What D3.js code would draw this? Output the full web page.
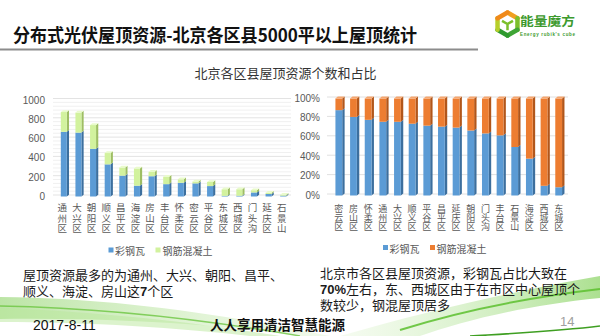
<!DOCTYPE html>
<html><head><meta charset="utf-8">
<script src="https://cdn.jsdelivr.net/npm/d3@7"></script>
<style>
html,body{margin:0;padding:0;background:#fff;}
svg{display:block;}
.vt{writing-mode:vertical-rl;text-orientation:upright;}
</style></head>
<body>
<svg id="c" width="600" height="336"></svg>
<script>
// ---------- data ----------
const leftCats = ["通州区","大兴区","朝阳区","顺义区","昌平区","海淀区","房山区","丰台区","怀柔区","密云区","平谷区","东城区","西城区","门头沟","延庆区","石景山"];
const leftSteel = [670,662,494,333,216,112,210,128,142,136,108,7,8,42,26,9];
const leftConcrete = [205,208,246,117,84,178,45,77,36,19,42,68,67,23,12,9];
const leftTicks = [0,200,400,600,800,1000];

const rightCats = ["密云区","房山区","怀柔区","通州区","大兴区","顺义区","平谷区","昌平区","延庆区","朝阳区","门头沟","丰台区","石景山","海淀区","西城区","东城区"];
const rightSteelPct = [88,81,78,76,76,74,72,71,70,67,64,62,50,38,10,8.5];
const rightConcretePct = [12,19,22,24,24,26,28,29,30,33,36,38,50,62,90,91.5];
const rightTicks = [0,20,40,60,80,100];

const seriesNames = ["彩钢瓦","钢筋混凝土"];
const pageTitle = "分布式光伏屋顶资源-北京各区县5000平以上屋顶统计";
const chartTitle = "北京各区县屋顶资源个数和占比";
const leftNote = ["屋顶资源最多的为通州、大兴、朝阳、昌平、","顺义、海淀、房山这7个区"];
const rightNote = ["北京市各区县屋顶资源，彩钢瓦占比大致在","70%左右，东、西城区由于在市区中心屋顶个","数较少，钢混屋顶居多"];

// ---------- setup ----------
const svg = d3.select("#c");
const CJK = "'Noto Sans CJK SC','Noto Sans',sans-serif";
const NOTE = "'Liberation Sans','Noto Sans CJK SC',sans-serif";
const blue = {front:"#5B9BD5", side:"#3C6F9E", top:"#9CC3E8"};
const green = {front:"#D2F29E", side:"#9EBE64", top:"#E9FBCB"};
const orange = {front:"#ED7D31", side:"#B2561A", top:"#F5A66F"};

// background swoosh decoration
const defs = svg.append("defs");
const g1 = defs.append("linearGradient").attr("id","sw1").attr("x1","0").attr("x2","1");
g1.append("stop").attr("offset","0").attr("stop-color","#8fd36a").attr("stop-opacity",0.6);
g1.append("stop").attr("offset","1").attr("stop-color","#c9ecb0").attr("stop-opacity",0.25);
const g2 = defs.append("linearGradient").attr("id","sw2").attr("x1","0").attr("x2","1");
g2.append("stop").attr("offset","0").attr("stop-color","#d8f2c6").attr("stop-opacity",0.25);
g2.append("stop").attr("offset","1").attr("stop-color","#7fcf55").attr("stop-opacity",0.65);
const deco = svg.append("g");
deco.append("path").attr("d","M0,297 C120,298 230,316 330,336 L300,336 C200,322 100,318 0,319 Z").attr("fill","url(#sw1)");
deco.append("path").attr("d","M0,308 C110,312 220,326 280,336 L250,336 C180,328 90,322 0,322 Z").attr("fill","#b9e79c").attr("opacity",0.5);
deco.append("path").attr("d","M340,336 C430,310 520,290 600,276 L600,298 C520,306 460,322 420,336 Z").attr("fill","url(#sw2)");
deco.append("path").attr("d","M0,306 C120,308 230,324 300,336").attr("fill","none").attr("stroke","#6cc540").attr("stroke-width",1.4).attr("opacity",0.8);
deco.append("path").attr("d","M400,330 C470,308 540,296 600,289").attr("fill","none").attr("stroke","#5cbf2e").attr("stroke-width",2).attr("opacity",0.85);
deco.append("path").attr("d","M470,336 C520,333 560,331 600,326").attr("fill","none").attr("stroke","#3f9f22").attr("stroke-width",1.6);

// page title
svg.append("text").attr("x",13).attr("y",42).attr("font-family",CJK).attr("font-weight","bold")
  .attr("font-size",18).attr("fill","#111").attr("textLength",404).attr("lengthAdjust","spacingAndGlyphs").text(pageTitle);
svg.append("line").attr("x1",0).attr("x2",478).attr("y1",49.5).attr("y2",49.5).attr("stroke","#8c8c8c").attr("stroke-width",2);

// logo
const logo = svg.append("g").attr("transform","translate(507.5,24)");
const R = 11.5;
const hex = d3.range(6).map(i => { const a = Math.PI/180*(60*i-90); return [R*Math.cos(a), R*Math.sin(a)]; });
const segColors = ["#f0a020","#7cbf2c","#3fa535","#2f9a2f","#b7cf2a","#f08a1a"];
for (let i=0;i<6;i++){
  const p=hex[i], q=hex[(i+1)%6];
  logo.append("line").attr("x1",p[0]).attr("y1",p[1]).attr("x2",q[0]).attr("y2",q[1])
    .attr("stroke",segColors[i]).attr("stroke-width",4.5).attr("stroke-linecap","round");
}
logo.append("path").attr("d",`M0,0 L${hex[1][0]*0.55},${hex[1][1]*0.55} M0,0 L${hex[5][0]*0.55},${hex[5][1]*0.55} M0,0 L0,${R*0.55}`)
  .attr("stroke","#7cbf2c").attr("stroke-width",2.5).attr("fill","none");
svg.append("text").attr("x",520).attr("y",26).attr("font-family",CJK).attr("font-weight","bold")
  .attr("font-size",12.5).attr("fill","#3d9a2e").attr("textLength",55).attr("lengthAdjust","spacingAndGlyphs").text("能量魔方");
svg.append("text").attr("x",520).attr("y",35.5).attr("font-family","'Liberation Sans',sans-serif").attr("font-weight","bold")
  .attr("font-size",4.5).attr("fill","#3d9a2e").attr("textLength",55).text("Energy rubik's cube");

// chart title
svg.append("text").attr("x",285.5).attr("y",77.5).attr("text-anchor","middle").attr("font-family",CJK)
  .attr("font-size",13).attr("fill","#333").text(chartTitle);

// 3D bar helper
function bar3d(g, x, w, yb, yt, col, withTop, dx, dy){
  g.append("polygon").attr("points",[[x+w,yt],[x+w+dx,yt-dy],[x+w+dx,yb-dy],[x+w,yb]].join(" ")).attr("fill",col.side);
  g.append("rect").attr("x",x).attr("y",yt).attr("width",w).attr("height",Math.max(0,yb-yt)).attr("fill",col.front);
  if (withTop){
    g.append("polygon").attr("points",[[x,yt],[x+dx,yt-dy],[x+w+dx,yt-dy],[x+w,yt]].join(" ")).attr("fill",col.top);
  }
}
function vlabel(g, cx, y0, txt, size, spacing){
  g.append("text").attr("class","vt").attr("x",cx).attr("y",y0)
    .attr("font-family",CJK).attr("font-size",size).attr("letter-spacing",spacing)
    .attr("fill","#595959").text(txt);
}

// ---------- left chart ----------
const L = svg.append("g");
const xL = d3.scaleBand().domain(leftCats).range([56,290]);
const yL = d3.scaleLinear().domain([0,1000]).range([196.5,100]);
d3.range(0,1001,40).forEach(v=>{
  L.append("line").attr("x1",53).attr("x2",291).attr("y1",yL(v)-1.5).attr("y2",yL(v)-1.5)
   .attr("stroke", v%200===0 ? "#e3e3e3" : "#f0f0f0").attr("stroke-width",1);
});
leftTicks.forEach(v=>{
  L.append("text").attr("x",45).attr("y",yL(v)+3.5).attr("text-anchor","end")
   .attr("font-family","'Liberation Sans',sans-serif").attr("font-size",10).attr("fill","#595959").text(v);
});
leftCats.forEach((c,i)=>{
  const cx = xL(c)+xL.bandwidth()/2;
  const w = 6, x = cx - w/2 + 0.5;
  const yS = yL(leftSteel[i]);
  const yT = yL(leftSteel[i]+leftConcrete[i]);
  bar3d(L, x, w, yL(0), yS, blue, false, 2.2, 1.8);
  bar3d(L, x, w, yS, yT, green, true, 2.2, 1.8);
  vlabel(L, cx-1, 203, c, 9.5, 0.7);
});
const legL = L.append("g");
legL.append("rect").attr("x",108.5).attr("y",247.5).attr("width",5).attr("height",5).attr("fill",blue.front);
legL.append("text").attr("x",115).attr("y",255).attr("font-family",CJK).attr("font-size",10).attr("fill","#595959").text(seriesNames[0]);
legL.append("rect").attr("x",155.5).attr("y",247.5).attr("width",5).attr("height",5).attr("fill",green.front);
legL.append("text").attr("x",162.5).attr("y",255).attr("font-family",CJK).attr("font-size",10).attr("fill","#595959").text(seriesNames[1]);

// ---------- right chart ----------
const Rg = svg.append("g");
const xR = d3.scaleBand().domain(rightCats).range([331.5,566]);
const yR = d3.scaleLinear().domain([0,100]).range([195.5,98.5]);
rightTicks.forEach(v=>{
  Rg.append("line").attr("x1",327).attr("x2",568).attr("y1",yR(v)-1.5).attr("y2",yR(v)-1.5)
   .attr("stroke","#e0e0e0").attr("stroke-width",1);
  Rg.append("text").attr("x",320).attr("y",yR(v)+3).attr("text-anchor","end")
   .attr("font-family","'Liberation Sans',sans-serif").attr("font-size",10).attr("fill","#595959").text(v+"%");
});
rightCats.forEach((c,i)=>{
  const cx = xR(c)+xR.bandwidth()/2;
  const w = 6.8, x = cx - w/2;
  const yS = yR(rightSteelPct[i]);
  const yT = yR(rightSteelPct[i]+rightConcretePct[i]);
  bar3d(Rg, x, w, yR(0), yS, blue, false, 2.4, 2);
  bar3d(Rg, x, w, yS, yT, orange, true, 2.4, 2);
  vlabel(Rg, cx, 204.5, c, 9, 0);
});
const legR = Rg.append("g");
legR.append("rect").attr("x",383).attr("y",245).attr("width",5).attr("height",5).attr("fill",blue.front);
legR.append("text").attr("x",389.5).attr("y",252.5).attr("font-family",CJK).attr("font-size",10).attr("fill","#595959").text(seriesNames[0]);
legR.append("rect").attr("x",430).attr("y",245).attr("width",5).attr("height",5).attr("fill",orange.front);
legR.append("text").attr("x",436.5).attr("y",252.5).attr("font-family",CJK).attr("font-size",10).attr("fill","#595959").text(seriesNames[1]);

// ---------- notes (ASCII digits rendered bold like the reference) ----------
function paragraph(x, y, lines){
  lines.forEach((s,i)=>{
    const t = svg.append("text").attr("x",x).attr("y",y+i*16).attr("font-family",NOTE).attr("font-size",13)
      .attr("fill","#1a1a1a");
    s.split(/([0-9%]+)/).forEach(part=>{
      if (!part) return;
      t.append("tspan").attr("font-weight", /^[0-9%]+$/.test(part) ? "bold" : null).text(part);
    });
  });
}
paragraph(23, 280, leftNote);
paragraph(320, 278, rightNote);

// footer
svg.append("text").attr("x",33).attr("y",330).attr("font-family","'Liberation Sans',sans-serif").attr("font-size",14)
  .attr("fill","#111").text("2017-8-11");
svg.append("text").attr("x",210).attr("y",330).attr("font-family",CJK).attr("font-size",13.5).attr("font-weight","bold")
  .attr("fill","#111").text("人人享用清洁智慧能源");
svg.append("text").attr("x",560).attr("y",326).attr("font-family","'Liberation Sans',sans-serif").attr("font-size",13)
  .attr("fill","#a0a0a0").text("14");
</script>
</body></html>
